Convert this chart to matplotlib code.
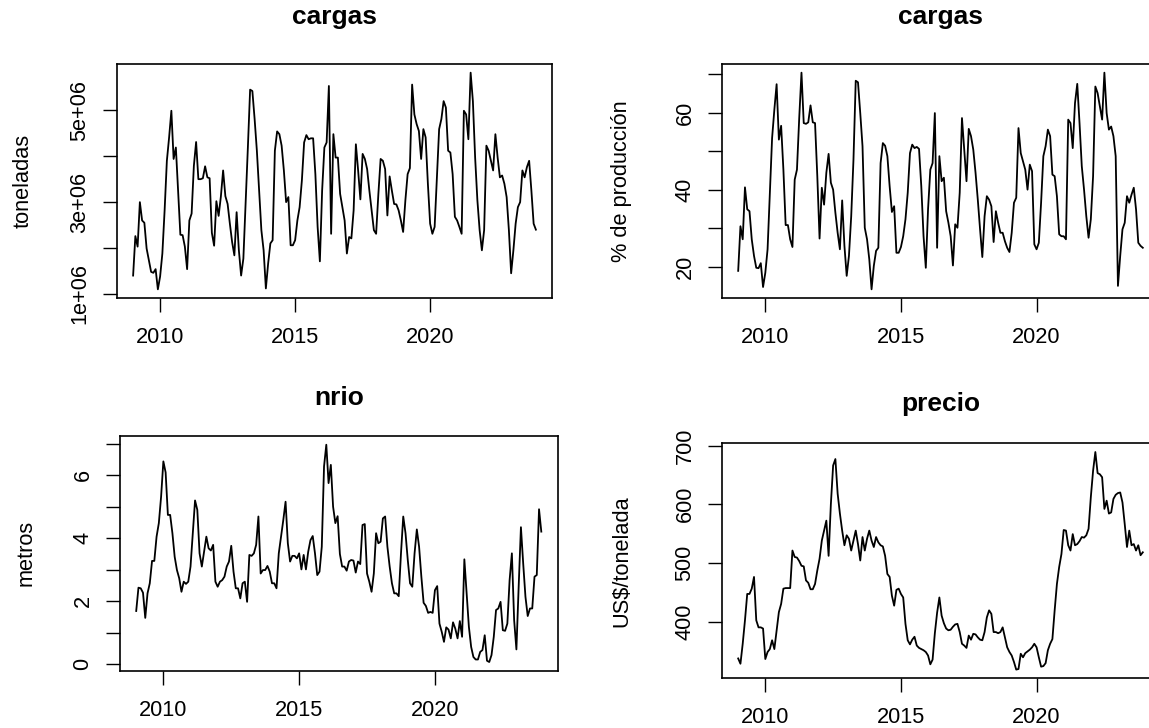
import numpy as np
import matplotlib
matplotlib.use("Agg")
import matplotlib.pyplot as plt

# series mensuales, enero 2009 - diciembre 2023
start_year = 2009
n_months = 180

# cargas en millones de toneladas
cargas_t = [
    1.40, 2.26, 2.03, 3.00, 2.60, 2.55, 1.99, 1.74, 1.48, 1.46, 1.54, 1.10,
    1.38, 1.88, 2.82, 3.90, 4.41, 4.99, 3.94, 4.19, 3.25, 2.29, 2.28, 2.03,
    1.54, 2.60, 2.75, 3.79, 4.31, 3.50, 3.50, 3.52, 3.78, 3.54, 3.52, 2.33,
    2.05, 3.02, 2.70, 3.12, 3.69, 3.13, 2.96, 2.53, 2.13, 1.84, 2.78, 1.95,
    1.40, 1.77, 2.96, 4.19, 5.45, 5.42, 4.81, 4.12, 3.25, 2.39, 1.95, 1.12,
    1.66, 2.10, 2.17, 4.12, 4.54, 4.48, 4.23, 3.69, 3.00, 3.11, 2.06, 2.06,
    2.17, 2.60, 2.89, 3.47, 4.30, 4.46, 4.37, 4.39, 4.39, 3.61, 2.46, 1.71,
    3.25, 4.19, 4.30, 5.53, 2.31, 4.48, 3.97, 3.97, 3.18, 2.89, 2.60, 1.88,
    2.24, 2.21, 2.82, 4.26, 3.69, 3.06, 4.05, 3.94, 3.72, 3.25, 2.82, 2.39,
    2.31, 3.18, 3.94, 3.90, 3.72, 2.71, 3.56, 3.25, 2.96, 2.95, 2.82, 2.60,
    2.35, 3.04, 3.61, 3.74, 5.56, 4.91, 4.70, 4.55, 3.94, 4.59, 4.41, 3.40,
    2.53, 2.31, 2.46, 3.51, 4.59, 4.81, 5.20, 5.06, 4.12, 4.08, 3.61, 2.68,
    2.60, 2.46, 2.31, 4.99, 4.91, 4.37, 5.82, 5.20, 3.97, 3.04, 2.39, 1.95,
    2.39, 4.23, 4.12, 3.90, 3.69, 4.48, 3.97, 3.54, 3.58, 3.40, 3.11, 2.39,
    1.45, 1.95, 2.53, 2.89, 3.00, 3.69, 3.54, 3.76, 3.90, 3.25, 2.53, 2.40,
]

# cargas como % de la produccion
cargas_pct = [
    18.9, 30.5, 27.1, 40.6, 34.9, 34.4, 27.1, 22.8, 19.7, 19.6, 20.9, 14.7,
    18.4, 24.5, 39.2, 53.4, 60.8, 67.4, 53.0, 56.6, 45.2, 30.8, 30.8, 27.1,
    25.1, 42.6, 45.2, 58.6, 70.4, 57.3, 57.1, 57.5, 61.9, 57.5, 57.3, 43.5,
    27.3, 40.5, 36.1, 44.4, 49.3, 41.8, 40.0, 34.0, 28.8, 24.5, 37.2, 25.4,
    17.6, 22.8, 33.1, 47.8, 68.3, 67.9, 59.9, 51.3, 30.1, 27.1, 21.9, 14.1,
    20.2, 24.1, 24.9, 46.9, 52.1, 51.4, 48.7, 40.9, 34.2, 35.7, 23.6, 23.6,
    25.1, 27.9, 32.3, 39.2, 49.5, 51.7, 50.8, 51.1, 50.6, 40.9, 27.9, 19.7,
    35.0, 45.2, 46.9, 59.9, 24.9, 48.7, 42.2, 43.1, 34.4, 31.4, 27.9, 20.3,
    31.0, 30.1, 39.2, 58.6, 50.4, 42.2, 55.8, 53.9, 50.4, 44.4, 37.4, 29.7,
    22.5, 33.1, 38.3, 37.4, 35.7, 26.4, 34.4, 31.4, 28.8, 28.8, 26.6, 24.9,
    23.8, 28.8, 36.6, 37.9, 56.0, 49.5, 47.4, 45.2, 40.0, 46.5, 44.8, 25.8,
    24.5, 26.2, 36.6, 48.7, 51.3, 55.6, 53.9, 43.9, 43.5, 38.3, 28.4, 27.9,
    27.9, 27.1, 58.2, 57.3, 50.8, 62.5, 67.5, 57.3, 46.1, 40.0, 33.1, 27.5,
    32.3, 43.5, 66.8, 65.1, 61.6, 58.2, 70.4, 59.9, 55.6, 56.4, 53.9, 48.7,
    15.0, 22.8, 29.7, 31.4, 38.3, 36.6, 38.7, 40.5, 34.9, 26.2, 25.4, 24.9,
]

# nivel del rio en metros
nrio = [
    1.69, 2.43, 2.41, 2.27, 1.47, 2.25, 2.57, 3.28, 3.28, 4.05, 4.48, 5.32,
    6.44, 6.09, 4.74, 4.74, 4.16, 3.41, 2.99, 2.73, 2.30, 2.62, 2.55, 2.62,
    3.10, 4.16, 5.20, 4.90, 3.52, 3.10, 3.57, 4.05, 3.68, 3.61, 3.79, 2.62,
    2.46, 2.62, 2.67, 2.78, 3.10, 3.26, 3.76, 2.94, 2.41, 2.41, 2.09, 2.57,
    2.62, 1.98, 3.47, 3.44, 3.52, 3.79, 4.69, 2.88, 2.99, 2.99, 3.12, 2.94,
    2.57, 2.57, 2.41, 3.52, 4.05, 4.58, 5.16, 3.84, 3.26, 3.44, 3.44, 3.36,
    3.52, 3.01, 3.47, 3.01, 3.57, 3.94, 4.07, 3.52, 2.83, 2.94, 3.73, 6.28,
    6.97, 5.75, 6.33, 5.00, 4.48, 4.70, 3.50, 3.10, 3.10, 2.97, 3.26, 3.31,
    3.29, 2.91, 3.26, 3.18, 4.42, 4.45, 2.88, 2.62, 2.30, 2.88, 4.16, 3.84,
    3.89, 4.63, 4.69, 3.73, 3.10, 2.57, 2.25, 2.25, 2.16, 3.52, 4.69, 4.16,
    3.31, 2.57, 2.46, 3.52, 4.28, 3.73, 2.78, 1.95, 1.85, 1.63, 1.66, 1.63,
    2.35, 2.48, 1.29, 1.03, 0.71, 1.17, 1.10, 0.82, 1.33, 1.13, 0.82, 1.37,
    0.87, 3.33, 2.25, 1.19, 0.55, 0.23, 0.15, 0.15, 0.39, 0.45, 0.92, 0.11,
    0.07, 0.29, 0.87, 1.72, 1.77, 1.98, 1.08, 1.06, 1.29, 2.67, 3.52, 1.40,
    0.47, 2.46, 4.35, 3.20, 2.14, 1.53, 1.77, 1.77, 2.78, 2.83, 4.92, 4.21,
]

# precio en US$/tonelada
precio = [
    337, 328, 362, 402, 447, 447, 456, 476, 402, 390, 390, 388,
    336, 348, 353, 368, 353, 385, 416, 430, 456, 457, 457, 457,
    521, 510, 509, 503, 495, 494, 470, 466, 455, 455, 464, 487,
    507, 538, 555, 572, 512, 600, 666, 677, 618, 584, 555, 530,
    547, 541, 521, 538, 555, 532, 504, 544, 521, 541, 555, 538,
    527, 544, 535, 530, 528, 512, 481, 476, 444, 427, 454, 456,
    447, 441, 396, 368, 361, 369, 374, 359, 355, 353, 351, 348,
    342, 327, 335, 380, 415, 441, 410, 397, 388, 385, 386, 391,
    395, 396, 382, 362, 359, 355, 376, 369, 379, 378, 373, 369,
    368, 382, 407, 419, 413, 382, 382, 380, 382, 390, 373, 356,
    348, 342, 331, 318, 319, 345, 339, 346, 349, 352, 356, 362,
    356, 339, 323, 324, 329, 351, 362, 370, 419, 464, 493, 515,
    556, 555, 530, 521, 549, 530, 532, 537, 544, 543, 547, 558,
    612, 657, 689, 653, 651, 646, 592, 606, 584, 586, 609, 616,
    619, 620, 603, 566, 527, 555, 530, 532, 521, 530, 513, 518,
]

x_ticks = [2010, 2015, 2020]

plt.rcParams['font.family'] = ['Liberation Sans', 'DejaVu Sans']

W, H = 1149, 728
fig = plt.figure(figsize=(W / 100, H / 100), dpi=100)

t = start_year + np.arange(n_months) / 12.0


def r_lim(v):
    # same padding R uses (4% each side)
    lo, hi = min(v), max(v)
    d = (hi - lo) * 0.04
    return lo - d, hi + d


def panel(box, y, title, ylab, yticks, ylabels, title_off, ylab_off=94):
    left, top, right, bottom = box
    w, h = right - left, bottom - top
    ax = fig.add_axes([left / W, 1 - bottom / H, w / W, h / H])
    ax.plot(t, y, color='black', lw=1.3)
    ax.set_xlim(r_lim(t))
    ax.set_ylim(r_lim(y))
    ax.set_xticks(x_ticks)
    ax.set_xticklabels([str(v) for v in x_ticks])
    ax.set_yticks(yticks)
    ax.set_yticklabels(ylabels, rotation=90, va='center')
    ax.tick_params(length=10, width=1, labelsize=15.7, color='black')
    ax.tick_params(axis='x', pad=11)
    ax.tick_params(axis='y', pad=9)
    for s in ax.spines.values():
        s.set_linewidth(1.2)
    ax.text(-ylab_off / w, 0.5, ylab, transform=ax.transAxes, rotation=90,
            ha='center', va='center', fontsize=15.7)
    ax.text(0.5, 1 + title_off / h, title, transform=ax.transAxes,
            ha='center', va='baseline', fontsize=19, fontweight='bold')
    return ax


tl_ticks = [1e6, 2e6, 3e6, 4e6, 5e6]
panel((117, 64, 552, 298), np.array(cargas_t) * 1e6, 'cargas', 'toneladas',
      tl_ticks, ['1e+06', '', '3e+06', '', '5e+06'], 40)

panel((722, 64, 1159, 298), cargas_pct, 'cargas', '% de producción',
      [20, 30, 40, 50, 60, 70], ['20', '', '40', '', '60', ''], 40, 100)

panel((120, 436, 557.5, 670.7), nrio, 'nrio', 'metros',
      list(range(8)), ['0', '', '2', '', '4', '', '6', ''], 31)

panel((722, 443.3, 1159, 678.3), precio, 'precio', 'US$/tonelada',
      [400, 500, 600, 700], ['400', '500', '600', '700'], 32, 100)

fig.savefig('out.png', dpi=100)
